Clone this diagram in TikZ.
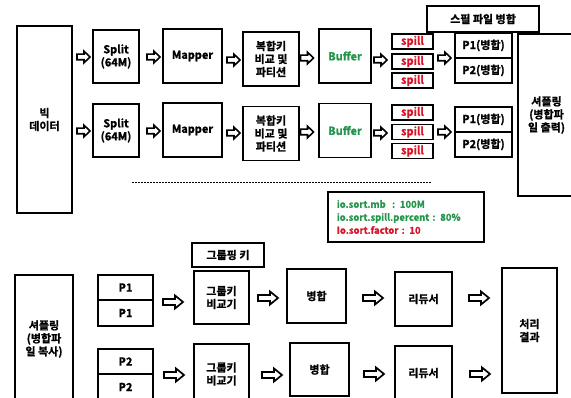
\documentclass[tikz,border=0pt]{standalone}
\usepackage{fontspec}
\setmainfont{Noto Sans CJK KR}[BoldFont={Noto Sans CJK KR Bold}, BoldFeatures={FakeBold=1.2}]
\definecolor{grn}{RGB}{35,150,75}
\definecolor{rd}{RGB}{215,20,40}
\begin{document}
\begin{tikzpicture}[x=1pt,y=-1pt,
  box/.style={draw, line width=1.7pt, align=center, inner sep=0pt,
    font=\fontsize{11}{13}\selectfont\bfseries},
  spillbox/.style={box, minimum width=41, minimum height=15, text=rd},
  sarr/.pic={\draw[line width=1.6pt, line join=miter, fill=white]
     (-6.5,-2.8) -- (0.5,-2.8) -- (0.5,-5.8) -- (6.5,0) -- (0.5,5.8) -- (0.5,2.8) -- (-6.5,2.8) -- cycle;},
  barr/.pic={\draw[line width=1.7pt, line join=miter, fill=white]
     (-10,-3) -- (2,-3) -- (2,-6.5) -- (10,0) -- (2,6.5) -- (2,3) -- (-10,3) -- cycle;}
]
\useasboundingbox (0,0) rectangle (571,398);
\clip (0,0) rectangle (571,398);
% ---------- top part ----------
\node[box, minimum width=55, minimum height=187] (big) at (44.5,119.5) {빅\\데이터};
\node[box, minimum width=46, minimum height=53] (split1) at (116,56.5) {Split\\(64M)};
\node[box, minimum width=46, minimum height=53] (split2) at (116,130.5) {Split\\(64M)};
\node[box, minimum width=59, minimum height=54] (map1) at (192.5,56) {Mapper};
\node[box, minimum width=59, minimum height=54] (map2) at (192.5,130) {Mapper};
\node[box, minimum width=56, minimum height=54] (cmp1) at (271,59) {복합키\\비교 및\\파티션};
\node[box, minimum width=56, minimum height=54] (cmp2) at (271,133.5) {복합키\\비교 및\\파티션};
\node[box, minimum width=52, minimum height=54, text=grn] (buf1) at (345,56) {Buffer};
\node[box, minimum width=52, minimum height=54, text=grn] (buf2) at (345,130.5) {Buffer};
\node[spillbox] (s11) at (412.5,41.5) {spill};
\node[spillbox] (s12) at (412.5,61.5) {spill};
\node[spillbox] (s13) at (412.5,80.5) {spill};
\node[spillbox] (s21) at (412.5,112.5) {spill};
\node[spillbox] (s22) at (412.5,132) {spill};
\node[spillbox] (s23) at (412.5,151) {spill};
\node[box, minimum width=57, minimum height=25] (p11) at (483.5,45.5) {P1(병합)};
\node[box, minimum width=57, minimum height=25] (p12) at (483.5,70.5) {P2(병합)};
\node[box, minimum width=57, minimum height=25] (p21) at (483.5,119.5) {P1(병합)};
\node[box, minimum width=57, minimum height=25] (p22) at (483.5,144.5) {P2(병합)};
\node[box, minimum width=112, minimum height=26] (merge) at (483,19) {스필 파일 병합};
\node[box, minimum width=57, minimum height=162] (shout) at (546.5,115) {셔플링\\(병합파\\일 출력)};
\pic at (83.5,57) {sarr};   \pic at (83.5,131) {sarr};
\pic at (153.5,57) {sarr};  \pic at (153.5,131) {sarr};
\pic at (233.5,60) {sarr};  \pic at (233.5,133) {sarr};
\pic at (307,58) {sarr};    \pic at (307,132) {sarr};
\pic at (380.5,60) {sarr};  \pic at (380.5,133) {sarr};
\pic at (444.5,58) {sarr};  \pic at (444.5,132) {sarr};
% dashed separator
\coordinate (dl) at (132,183);
\coordinate (dr) at (431,183);
\draw[line width=1pt, dash pattern=on 2pt off 1pt] (dl) -- (dr);
% parameters
\node[draw, line width=1.7pt, anchor=west, text width=138, inner xsep=9, minimum height=50, align=left,
  font=\fontsize{9.5}{13}\selectfont\bfseries] (param) at (327,217)
  {\textcolor{grn}{io.sort.mb\ \ : 100M}\\\textcolor{grn}{io.sort.spill.percent : 80\%}\\\textcolor{rd}{Io.sort.factor : 10}};
% ---------- bottom part ----------
\node[box, minimum width=58, minimum height=128] (shin) at (44,339) {셔플링\\(병합파\\일 복사)};
\node[box, minimum width=55, minimum height=25] (pa1) at (125.5,287.5) {P1};
\node[box, minimum width=55, minimum height=26] (pa2) at (125.5,313) {P1};
\node[box, minimum width=55, minimum height=25] (pb1) at (125.5,361.5) {P2};
\node[box, minimum width=55, minimum height=26] (pb2) at (125.5,387) {P2};
\node[box, minimum width=72, minimum height=24] (gkey) at (228,255) {그룹핑 키};
\node[box, minimum width=55, minimum height=53] (gc1) at (221.5,297.5) {그룹키\\비교기};
\node[box, minimum width=55, minimum height=60] (gc2) at (221.5,374) {그룹키\\비교기};
\node[box, minimum width=59, minimum height=54] (mg1) at (316.5,296) {병합};
\node[box, minimum width=59, minimum height=53] (mg2) at (319.5,369.5) {병합};
\node[box, minimum width=57, minimum height=54] (rd1) at (423.5,299) {리듀서};
\node[box, minimum width=57, minimum height=54] (rd2) at (423.5,373) {리듀서};
\node[box, minimum width=55, minimum height=125] (res) at (529.5,330.5) {처리\\결과};
\pic at (173,302) {barr}; \pic at (268,298) {barr}; \pic at (373,298) {barr}; \pic at (479,298) {barr};
\pic at (174,375) {barr}; \pic at (272,375) {barr}; \pic at (374,374) {barr}; \pic at (480,374) {barr};
\end{tikzpicture}
\end{document}
